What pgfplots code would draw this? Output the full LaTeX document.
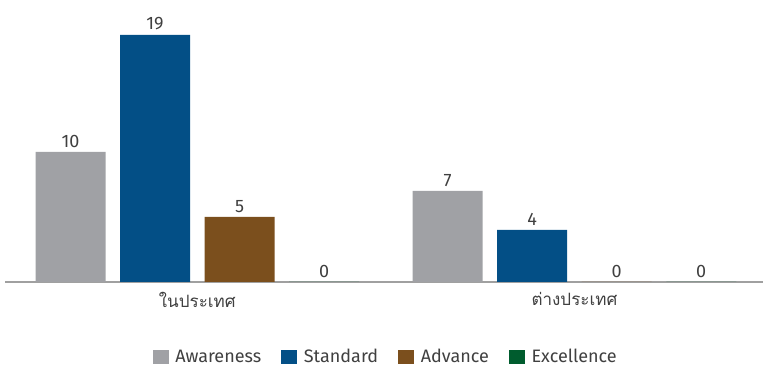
\documentclass[border=0pt]{standalone}
\usepackage{pgfplots}
\pgfplotsset{compat=1.18}
\usepackage{fontspec}
\setmainfont{Fira Sans}
\newfontfamily\thaifont[Script=Thai]{Loma}

\definecolor{cAware}{HTML}{A0A1A5}
\definecolor{cStd}{HTML}{034F86}
\definecolor{cAdv}{HTML}{7B4F1D}
\definecolor{cExc}{HTML}{005C2E}
\definecolor{txt}{HTML}{404040}
\definecolor{axisgray}{HTML}{A0A0A0}

\begin{document}
\begin{tikzpicture}
% page = 763 x 367 px, 1px = 0.75pt
\path[use as bounding box] (0,0) rectangle (572.25pt,275.25pt);
\begin{axis}[
    at={(3.75pt,63.75pt)}, anchor=south west,
    scale only axis,
    width=568.5pt, height=204.75pt,
    xmin=-0.51, xmax=1.5,
    ymin=0, ymax=21,
    ybar=10.9pt, bar width=52.5pt,
    axis x line=bottom, axis y line=none,
    axis line style={axisgray, line width=2.2pt, -},
    xtick={0,1},
    xticklabels={{\thaifont ในประเทศ},{\thaifont ต่างประเทศ}},
    major tick length=0pt,
    xticklabel style={font=\fontsize{12.75pt}{14pt}\selectfont, text=txt, yshift=-4pt},
    /pgf/number format/assume math mode=true,
    nodes near coords,
    every node near coord/.append style={font=\fontsize{13.5pt}{15pt}\selectfont, text=txt, yshift=0pt},
    clip=false,
    legend columns=4,
    legend style={at={(0.5026,-0.2747)}, anchor=center, draw=none,
        font=\fontsize{13.5pt}{15pt}\selectfont, text=txt,
        /tikz/every odd column/.append style={column sep=3pt},
        /tikz/every even column/.append style={column sep=13pt}},
    legend image code/.code={\fill[#1] (0pt,-5pt) rectangle (12pt,5pt);},
]
\addplot[fill=cAware, draw=none] coordinates {(0,10) (1,7)};
\addplot[fill=cStd, draw=none] coordinates {(0,19) (1,4)};
\addplot[fill=cAdv, draw=none] coordinates {(0,5) (1,0)};
\addplot[fill=cExc, draw=none] coordinates {(0,0) (1,0)};
\legend{Awareness, Standard, Advance, Excellence}
\end{axis}
\end{tikzpicture}
\end{document}
